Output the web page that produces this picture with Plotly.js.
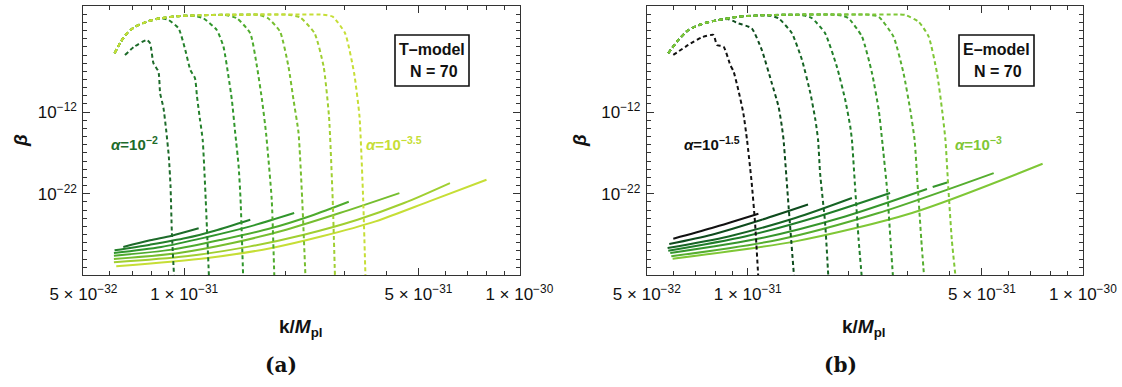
<!DOCTYPE html>
<html>
<head>
<meta charset="utf-8">
<script src="https://cdn.plot.ly/plotly-3.0.1.min.js"></script>
<style>
html,body{margin:0;padding:0;background:#fff;}
#chart{width:1122px;height:387px;}
</style>
</head>
<body>
<div id="chart"></div>
<script>
// ---------- DATA (log10 values) ----------
// Panel (a): T-model, N = 70, alpha = 10^-2 ... 10^-3.5
const tAlphaExp = [-2, -2.25, -2.5, -2.75, -3, -3.25, -3.5];
const tDashLogK = [
  [-31.177,-31.150,-31.112,-31.102,-31.092,-31.077,-31.072,-31.062,-31.054,-31.046,-31.041,-31.037,-31.030],
  [-31.208,-31.191,-31.171,-31.147,-31.112,-31.072,-31.047,-31.017,-30.997,-30.982,-30.968,-30.962,-30.953,-30.945,-30.936,-30.926],
  [-31.208,-31.191,-31.171,-31.147,-31.112,-31.072,-31.012,-30.970,-30.943,-30.903,-30.883,-30.868,-30.858,-30.848,-30.838,-30.832,-30.824],
  [-31.208,-31.191,-31.171,-31.147,-31.112,-31.072,-31.012,-30.953,-30.880,-30.843,-30.803,-30.783,-30.768,-30.756,-30.739,-30.731],
  [-31.208,-31.191,-31.171,-31.147,-31.112,-31.072,-31.012,-30.953,-30.863,-30.780,-30.750,-30.714,-30.689,-30.674,-30.659,-30.648,-30.638],
  [-31.208,-31.191,-31.171,-31.147,-31.112,-31.072,-31.012,-30.953,-30.863,-30.750,-30.690,-30.654,-30.611,-30.584,-30.568,-30.557,-30.550],
  [-31.208,-31.191,-31.171,-31.147,-31.112,-31.072,-31.012,-30.953,-30.863,-30.750,-30.650,-30.590,-30.557,-30.520,-30.493,-30.477,-30.466,-30.459]
];
const tDashLogB = [
  [-4.99,-4.0,-3.15,-3.55,-6.0,-7.03,-9.67,-11.5,-14.2,-17.5,-21.1,-26.8,-32.5],
  [-4.78,-3.48,-2.33,-1.52,-0.91,-0.49,-0.70,-1.72,-4.37,-6.82,-7.84,-10.09,-12.94,-15.39,-22.73,-32.5],
  [-4.78,-3.48,-2.33,-1.52,-0.91,-0.49,-0.21,-0.20,-0.49,-1.93,-3.97,-7.64,-10.49,-14.53,-18.5,-22.73,-32.5],
  [-4.78,-3.48,-2.33,-1.52,-0.91,-0.49,-0.21,-0.13,-0.08,-0.49,-2.33,-6.42,-10.49,-14.53,-22.73,-32.5],
  [-4.78,-3.48,-2.33,-1.52,-0.91,-0.49,-0.21,-0.13,-0.06,-0.06,-0.49,-2.13,-6.42,-10.49,-14.53,-22.73,-32.5],
  [-4.78,-3.48,-2.33,-1.52,-0.91,-0.49,-0.21,-0.13,-0.06,-0.04,-0.05,-0.40,-2.33,-6.42,-12.54,-22.73,-32.5],
  [-4.78,-3.48,-2.33,-1.52,-0.91,-0.49,-0.21,-0.13,-0.06,-0.04,-0.03,-0.04,-0.30,-2.33,-7.23,-12.54,-22.73,-32.5]
];
const tSolidLogK = [
  [-31.182,-31.102,-31.037,-30.957],
  [-31.208,-31.102,-30.995,-30.909,-30.803],
  [-31.210,-31.069,-30.931,-30.803,-30.672],
  [-31.210,-31.037,-30.888,-30.739,-30.621,-30.509],
  [-31.210,-31.016,-30.856,-30.696,-30.536,-30.358],
  [-31.210,-30.995,-30.803,-30.643,-30.483,-30.344,-30.207],
  [-31.203,-30.931,-30.739,-30.589,-30.429,-30.269,-30.098]
];
const tSolidLogB = [
  [-28.53,-27.71,-27.14,-26.24],
  [-28.94,-28.24,-27.43,-26.53,-25.18],
  [-29.26,-28.53,-27.30,-26.00,-24.37],
  [-29.59,-28.85,-27.63,-26.20,-24.69,-22.98],
  [-30.00,-29.26,-28.04,-26.41,-24.37,-21.92],
  [-30.41,-29.67,-28.45,-27.02,-25.18,-23.14,-20.69],
  [-30.90,-29.88,-28.65,-27.22,-25.39,-22.94,-20.29]
];
const tColors = ['#1d6b2a','#24802b','#30962c','#4eab2d','#76be2f','#a0cf31','#c6de36'];

// Panel (b): E-model, N = 70, alpha = 10^-1.5 ... 10^-3
const eAlphaExp = [-1.5, -1.75, -2, -2.25, -2.5, -2.75, -3];
const eDashLogK = [
  [-31.222,-31.177,-31.137,-31.102,-31.092,-31.072,-31.052,-31.042,-31.028,-31.013,-31.002,-30.988,-30.978,-30.968],
  [-31.237,-31.207,-31.177,-31.137,-31.087,-31.058,-31.028,-30.988,-30.958,-30.928,-30.908,-30.898,-30.893,-30.878,-30.861],
  [-31.237,-31.207,-31.177,-31.137,-31.087,-31.028,-30.958,-30.930,-30.908,-30.868,-30.838,-30.813,-30.798,-30.790,-30.784,-30.769,-30.759],
  [-31.237,-31.207,-31.177,-31.137,-31.087,-31.028,-30.958,-30.858,-30.830,-30.808,-30.769,-30.734,-30.709,-30.694,-30.689,-30.679,-30.669,-30.659],
  [-31.237,-31.207,-31.177,-31.137,-31.087,-31.028,-30.958,-30.858,-30.750,-30.720,-30.699,-30.659,-30.629,-30.609,-30.599,-30.584,-30.574,-30.566],
  [-31.237,-31.207,-31.177,-31.137,-31.087,-31.028,-30.958,-30.858,-30.750,-30.650,-30.630,-30.609,-30.565,-30.535,-30.515,-30.502,-30.492,-30.482,-30.473],
  [-31.237,-31.207,-31.177,-31.137,-31.087,-31.028,-30.958,-30.858,-30.750,-30.650,-30.550,-30.530,-30.490,-30.460,-30.435,-30.420,-30.410,-30.401,-30.391,-30.379]
];
const eDashLogB = [
  [-4.99,-3.76,-2.82,-2.54,-3.76,-3.97,-6.21,-7.03,-9.27,-12.12,-15.39,-20.69,-25.59,-32.5],
  [-4.78,-3.15,-1.93,-1.19,-0.70,-0.60,-1.11,-1.72,-4.37,-8.45,-11.31,-13.76,-15.39,-23.55,-32.5],
  [-4.78,-3.15,-1.93,-1.19,-0.70,-0.30,-0.13,-0.20,-0.49,-2.33,-5.60,-9.67,-12.94,-15.39,-19.47,-25.59,-32.5],
  [-4.78,-3.15,-1.93,-1.19,-0.70,-0.30,-0.13,-0.05,-0.15,-0.49,-2.33,-6.42,-10.49,-13.76,-15.39,-21.51,-27.63,-32.5],
  [-4.78,-3.15,-1.93,-1.19,-0.70,-0.30,-0.13,-0.05,-0.04,-0.15,-0.49,-2.74,-7.23,-11.72,-15.39,-21.51,-27.63,-32.5],
  [-4.78,-3.15,-1.93,-1.19,-0.70,-0.30,-0.13,-0.05,-0.04,-0.03,-0.10,-0.30,-2.74,-7.23,-11.72,-15.39,-21.51,-27.63,-32.5],
  [-4.78,-3.15,-1.93,-1.19,-0.70,-0.30,-0.13,-0.05,-0.04,-0.03,-0.03,-0.09,-0.91,-2.74,-7.23,-11.72,-15.39,-21.51,-27.63,-32.5]
];
const eSolidLogK = [
  [-31.222,-31.107,-30.968],
  [-31.234,-31.107,-30.958,-30.820],
  [-31.239,-31.057,-30.858,-30.689],
  [-31.237,-31.008,-30.789,-30.575],
  [-31.231,-30.958,-30.709,-30.465,null,-30.448,-30.405],
  [-31.228,-30.908,-30.610,-30.266],
  [-31.224,-30.858,-30.510,-30.120]
];
const eSolidLogB = [
  [-27.51,-26.20,-24.45],
  [-28.16,-27.02,-25.18,-23.31],
  [-28.65,-27.23,-24.98,-22.53],
  [-28.98,-27.23,-24.78,-21.91],
  [-29.26,-27.42,-24.78,-21.42,null,-21.18,-20.62],
  [-29.67,-27.63,-24.36,-19.47],
  [-29.96,-27.84,-24.36,-18.33]
];
const eColors = ['#111111','#0e4b1d','#166424','#207e29','#36962c','#56ae2f','#7fc736'];

// Axis ticks
const xMajorVals = [5e-32, 1e-31, 5e-31, 1e-30];
const xMajorText = ['5 × 10<sup>−32</sup>','1 × 10<sup>−31</sup>','5 × 10<sup>−31</sup>','1 × 10<sup>−30</sup>'];
const xMinorVals = [6e-32,7e-32,8e-32,9e-32,2e-31,3e-31,4e-31,6e-31,7e-31,8e-31,9e-31];
const yMajorVals = [1e-22, 1e-12];
const yMajorText = ['10<sup>−22</sup>','10<sup>−12</sup>'];
const yMinorExp = [-31,-30,-29,-28,-27,-26,-25,-24,-23,-21,-20,-19,-18,-17,-16,-15,-14,-13,-11,-10,-9,-8,-7,-6,-5,-4,-3,-2,-1,0];

// ---------- BUILD ----------
const pw = 1122, ph = 387;
const px = x => x / pw, py = y => 1 - y / ph;
const pow10 = a => a.map(v => v === null ? null : Math.pow(10, v));

const traces = [];
function addPanel(dK, dB, sK, sB, cols, xa, ya) {
  for (let i = 0; i < sK.length; i++) {
    traces.push({x: pow10(sK[i]), y: pow10(sB[i]), xaxis: xa, yaxis: ya, mode: 'lines',
      line: {color: cols[i], width: 2, shape: 'spline', smoothing: 0.8}, hoverinfo: 'skip', showlegend: false,
      connectgaps: false});
  }
  for (let i = 0; i < dK.length; i++) {
    traces.push({x: pow10(dK[i]), y: pow10(dB[i]), xaxis: xa, yaxis: ya, mode: 'lines',
      line: {color: cols[i], width: 2, dash: '4px,3px', shape: 'spline', smoothing: 0.5}, hoverinfo: 'skip', showlegend: false});
  }
}
addPanel(tDashLogK, tDashLogB, tSolidLogK, tSolidLogB, tColors, 'x', 'y');
addPanel(eDashLogK, eDashLogB, eSolidLogK, eSolidLogB, eColors, 'x2', 'y2');

const SANS = 'Liberation Sans, Arial, sans-serif';
const tickFont = {family: SANS, size: 17, color: '#111'};
function xAxis(dom, anchor) {
  return {type: 'log', domain: dom, anchor: anchor, range: [Math.log10(5e-32) - 0.0003, -29.9995],
    tickmode: 'array', tickvals: xMajorVals, ticktext: xMajorText, ticks: 'inside', ticklen: 7, tickwidth: 1,
    tickcolor: '#333', showline: true, linecolor: '#333', linewidth: 1, mirror: 'allticks',
    showgrid: false, zeroline: false, tickfont: tickFont, ticklabelstandoff: 4,
    minor: {tickvals: xMinorVals, ticks: 'inside', ticklen: 4, tickcolor: '#333', tickwidth: 1, showgrid: false}};
}
function yAxis(dom, anchor) {
  return {type: 'log', domain: dom, anchor: anchor, range: [-31.96, 1.01],
    tickmode: 'array', tickvals: yMajorVals, ticktext: yMajorText, ticks: 'inside', ticklen: 7, tickwidth: 1,
    tickcolor: '#333', showline: true, linecolor: '#333', linewidth: 1, mirror: 'allticks',
    showgrid: false, zeroline: false, tickfont: tickFont, ticklabelstandoff: 2,
    minor: {tickvals: yMinorExp.map(e => Math.pow(10, e)), ticks: 'inside', ticklen: 4, tickcolor: '#333', tickwidth: 1, showgrid: false}};
}
const yDom = [py(275), py(6)];

const bold = {family: SANS, size: 16, color: '#111'};
const ann = [];
function A(text, x, y, font, extra) {
  ann.push(Object.assign({text: text, x: px(x), y: py(y), xref: 'paper', yref: 'paper', showarrow: false,
    xanchor: 'center', yanchor: 'middle', font: font}, extra || {}));
}
const labFont = c => ({family: SANS, size: 15, color: c});
const titleFont = {family: SANS, size: 19, color: '#111'};
const serifFont = {family: 'DejaVu Serif, serif', size: 20, color: '#111'};
// panel a
A('<b>T–model</b>', 432, 50, bold);
A('<b>N = 70</b>', 434, 71, bold);
A('<b><i>α</i>=10<sup>−2</sup></b>', 134, 143, labFont(tColors[0]));
A('<b><i>α</i>=10<sup>−3.5</sup></b>', 394, 143, labFont(tColors[6]));
A('<b>k/<i>M</i><sub>pl</sub></b>', 301, 328, titleFont);
A('<b><i>β</i></b>', 20, 141, titleFont, {textangle: -90});
A('<b>(a)</b>', 281, 365, serifFont);
// panel b
A('<b>E–model</b>', 996, 50, bold);
A('<b>N = 70</b>', 998, 71, bold);
A('<b><i>α</i>=10<sup>−1.5</sup></b>', 712, 143, labFont(eColors[0]));
A('<b><i>α</i>=10<sup>−3</sup></b>', 978, 143, labFont(eColors[6]));
A('<b>k/<i>M</i><sub>pl</sub></b>', 864, 328, titleFont);
A('<b><i>β</i></b>', 579, 141, titleFont, {textangle: -90});
A('<b>(b)</b>', 840, 365, serifFont);

const shapes = [
  {type: 'rect', xref: 'paper', yref: 'paper', x0: px(395), x1: px(469), y0: py(86), y1: py(35),
    line: {color: '#111', width: 1.6}, fillcolor: '#fff', layer: 'above'},
  {type: 'rect', xref: 'paper', yref: 'paper', x0: px(959), x1: px(1034), y0: py(86), y1: py(35),
    line: {color: '#111', width: 1.6}, fillcolor: '#fff', layer: 'above'}
];

const layout = {
  width: pw, height: ph, margin: {l: 0, r: 0, t: 0, b: 0}, paper_bgcolor: '#fff', plot_bgcolor: '#fff',
  showlegend: false,
  xaxis: xAxis([px(83.3), px(519.5)], 'y'),
  yaxis: yAxis(yDom, 'x'),
  xaxis2: xAxis([px(646.7), px(1083)], 'y2'),
  yaxis2: yAxis(yDom, 'x2'),
  annotations: ann, shapes: shapes
};
Plotly.newPlot('chart', traces, layout, {staticPlot: true, displayModeBar: false});
</script>
</body>
</html>
